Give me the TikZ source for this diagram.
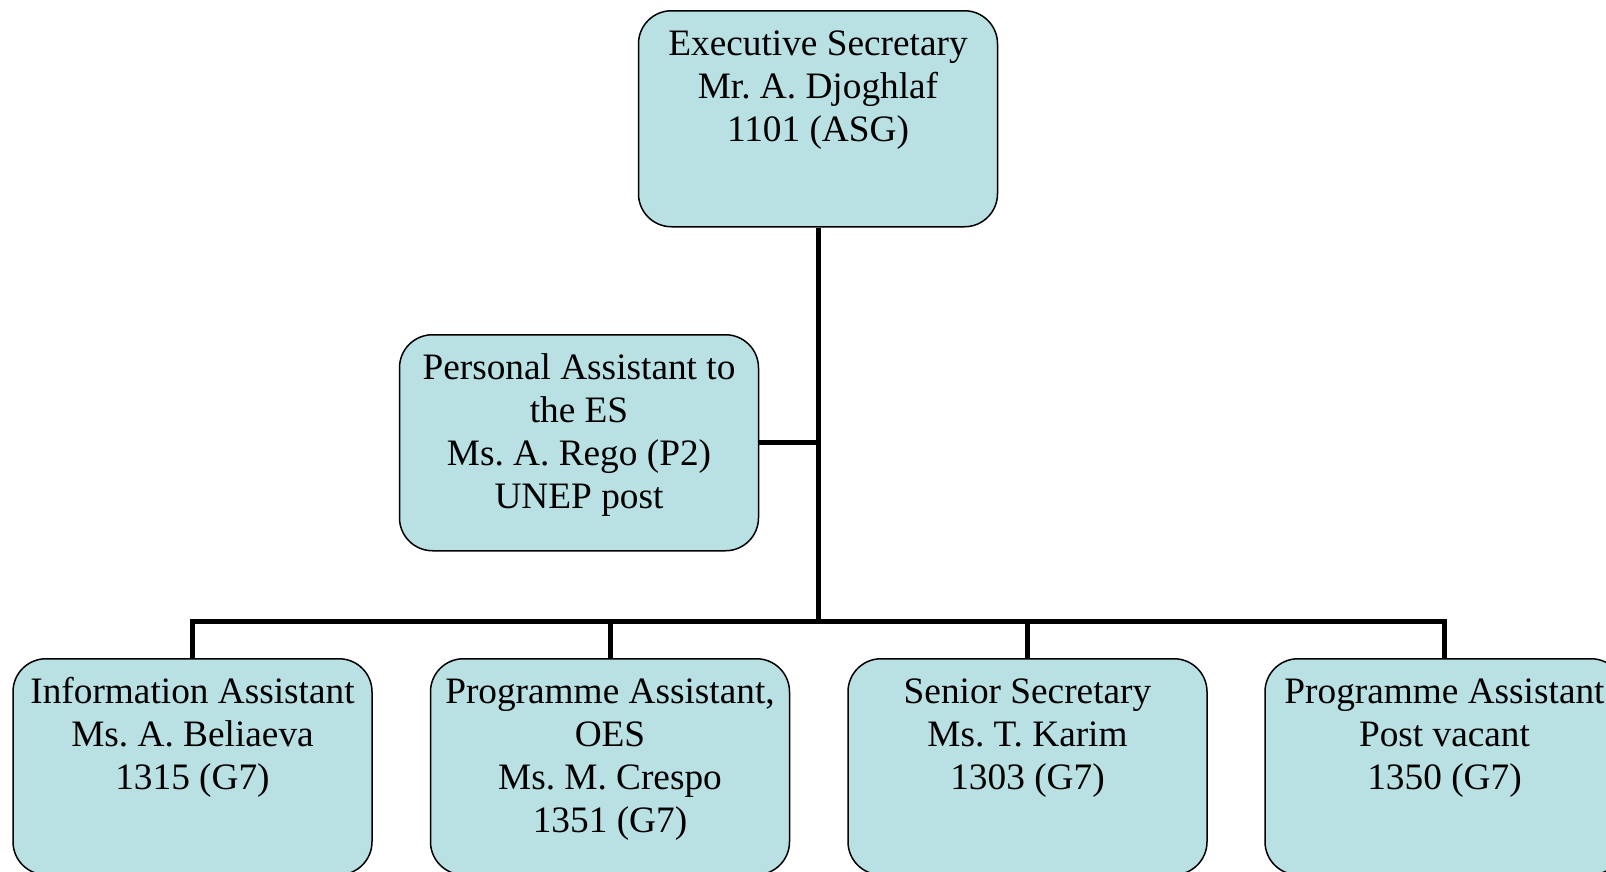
\documentclass[tikz,border=0pt]{standalone}
\usepackage{fontspec}
\setmainfont{Liberation Serif}
\usetikzlibrary{calc}
\definecolor{postfill}{RGB}{185,224,227}
\frenchspacing
\newcommand{\posttext}[1]{\parbox[c][186pt][t]{340pt}{\centering\strut #1}}

\begin{document}
\begin{tikzpicture}[x=1pt,y=-1pt,
    post/.style={draw, line width=1.5pt, fill=postfill, rounded corners=33pt,
      minimum width=359pt, minimum height=216pt, inner sep=0pt, anchor=north,
      font=\fontsize{37.3}{43}\selectfont},
    link/.style={line width=5pt}]
      \useasboundingbox (0,0) rectangle (1606,871);
      \clip (0,0) rectangle (1606,871);

      \node[post] (es) at (818,10)   {\posttext{Executive Secretary\\ Mr. A. Djoghlaf\\ 1101 (ASG)}};
      \node[post] (pa) at (579,334)  {\posttext{Personal Assistant to\\ the ES\\ Ms. A. Rego (P2)\\ UNEP post}};
      \node[post] (ia) at (192.5,658) {\posttext{Information Assistant\\ Ms. A. Beliaeva\\ 1315 (G7)}};
      \node[post] (pr) at (610,658)  {\posttext{Programme Assistant,\\ OES\\ Ms. M. Crespo\\ 1351 (G7)}};
      \node[post] (ss) at (1027.5,658) {\posttext{Senior Secretary\\ Ms. T. Karim\\ 1303 (G7)}};
      \node[post] (pv) at (1444.5,658) {\posttext{Programme Assistant\\ Post vacant\\ 1350 (G7)}};

      \coordinate (bus) at (es.south |- 0,621);
      \draw [link] (es.south) -- (bus);
      \draw [link] (pa.east) -- (pa.east -| es.south);
      \draw [link] (ia.north) |- (bus) -| (pv.north);
      \draw [link] (pr.north) -- (pr.north |- bus);
      \draw [link] (ss.north) -- (ss.north |- bus);
\end{tikzpicture}
\end{document}
